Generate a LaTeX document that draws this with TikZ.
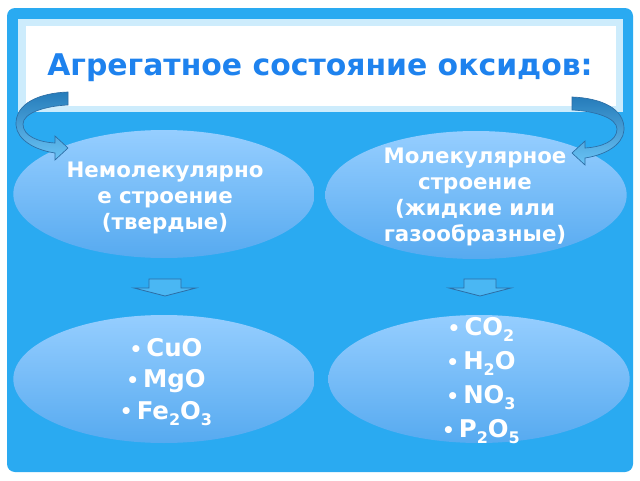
\documentclass[tikz,border=0pt]{standalone}
\usepackage{fontspec}
\setmainfont{DejaVu Sans}
\usetikzlibrary{shapes.geometric,positioning}
\definecolor{slideblue}{RGB}{42,170,241}
\definecolor{bandblue}{RGB}{205,236,252}
\definecolor{titleblue}{RGB}{30,130,238}
\definecolor{ovaltop}{RGB}{150,206,255}
\definecolor{ovalbottom}{RGB}{86,170,240}
\definecolor{arrowdark}{RGB}{38,124,186}
\definecolor{arrowline}{RGB}{45,110,165}
\newcommand{\bendpath}{(68,388) .. controls (40,387) and (15,377) .. (16,355)
    .. controls (17,340) and (35,330) .. (55,327) -- (55,320) -- (68,332) -- (55,344) -- (55,337)
    .. controls (38,338) and (23,344) .. (23,356) .. controls (23,367) and (45,374) .. (68,375) -- cycle}
\newcommand{\downpath}{(-16,0) -- (16,0) -- (16,-9) -- (31,-9) -- (0,-17) -- (-31,-9) -- (-16,-9) -- cycle}
\newcommand{\dotitem}{{\fontsize{15}{15}\selectfont\raisebox{0.05ex}{•}}\,}
\newcommand{\chemsub}[1]{\raisebox{-0.45ex}{\fontsize{12}{12}\selectfont#1}}

\begin{document}
\begin{tikzpicture}[x=0.75pt, y=0.75pt,
    oval/.style={ellipse, inner sep=0pt, minimum width=226pt, minimum height=96pt,
        top color=ovaltop, bottom color=ovalbottom},
    ovaltext/.style={text=white, align=center, font=\fontsize{16}{19.5}\selectfont\bfseries},
    listtext/.style={text=white, align=center, font=\fontsize{18.3}{23.5}\selectfont\bfseries},
    bendarrow/.style={draw=arrowline, line width=0.5pt, top color=arrowdark, bottom color=slideblue!70!white},
    downarrow/.style={draw=arrowline, line width=0.6pt, fill=slideblue!85!white}]
    \useasboundingbox (0,0) rectangle (640,480);
    \fill[white] (0,0) rectangle (640,480);
    % slide and title box
    \fill[slideblue, rounded corners=6pt] (7,8) rectangle (633,472);
    \fill[bandblue] (18,368) rectangle (623,461);
    \fill[white] (26,374) rectangle (616,454);
    \node[font=\fontsize{22.4}{26}\selectfont\bfseries, text=titleblue] (title) at (320,412) {Агрегатное состояние оксидов:};
    % ovals
    \node[oval] (solid) at (164,286) {};
    \node[oval] (molec) at (476,285) {};
    \node[oval] (solidlist) at (164,101) {};
    \node[oval] (moleclist) at (479,101) {};
    \node[ovaltext] (solidtext) at (165,282) {Немолекулярно\\е строение\\(твердые)};
    \node[ovaltext] (molectext) at (475,283) {Молекулярное\\строение\\(жидкие или\\газообразные)};
    \node[listtext] (solidlisttext) at (166,98) {\dotitem CuO\\\dotitem MgO\\\dotitem Fe\chemsub{2}O\chemsub{3}};
    \node[listtext, font=\fontsize{18.3}{25.5}\selectfont\bfseries] (moleclisttext) at (481,99)
        {\dotitem CO\chemsub{2}\\\dotitem H\chemsub{2}O\\\dotitem NO\chemsub{3}\\\dotitem P\chemsub{2}O\chemsub{5}};
    % arrows
    \path[bendarrow] \bendpath;
    \begin{scope}[shift={(640,-5)}, xscale=-1]
        \path[bendarrow] \bendpath;
    \end{scope}
    \begin{scope}[shift={(165,201)}]
        \path[downarrow] \downpath;
    \end{scope}
    \begin{scope}[shift={(480,201)}]
        \path[downarrow] \downpath;
    \end{scope}
\end{tikzpicture}
\end{document}
